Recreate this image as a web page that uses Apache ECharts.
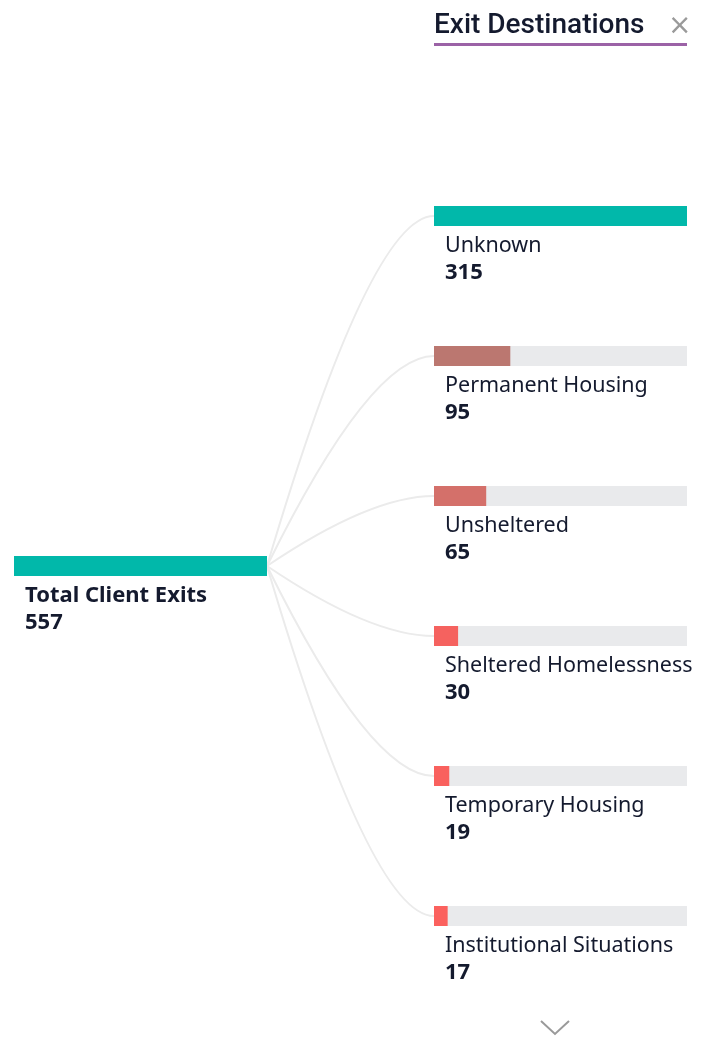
<!DOCTYPE html>
<html>
<head>
<meta charset="utf-8">
<script src="https://cdn.jsdelivr.net/npm/echarts@6/dist/echarts.min.js"></script>
<style>
  html, body { margin: 0; padding: 0; background: #fff; }
  #chart { width: 705px; height: 1045px; }
</style>
</head>
<body>
<div id="chart"></div>
<script>
// root node
const rootName = 'Total Client Exits';
const rootValue = 557;

// exit destination breakdown
const destinations = ['Unknown', 'Permanent Housing', 'Unsheltered', 'Sheltered Homelessness', 'Temporary Housing', 'Institutional Situations'];
const exitCounts = [315, 95, 65, 30, 19, 17];
const barColors = ['#01B8AA', '#BB7770', '#D4706A', '#F5625F', '#F9615E', '#FB615E'];

const textColor = '#141a2e';
const font = '"Noto Sans", "Open Sans", sans-serif';

const chart = echarts.init(document.getElementById('chart'));

const labelRich = {
  n: { fontFamily: font, fontSize: 21.5, color: textColor, lineHeight: 27 },
  nb: { fontFamily: font, fontSize: 22, fontWeight: 'bold', color: textColor, lineHeight: 27 },
  v: { fontFamily: font, fontSize: 22, fontWeight: 'bold', color: textColor, lineHeight: 27 }
};

const option = {
  animation: false,
  grid: [
    { left: 14, width: 253, top: 496, height: 140 },
    { left: 434, width: 253, top: 146, height: 840 }
  ],
  xAxis: [
    { gridIndex: 0, type: 'value', min: 0, max: rootValue, show: false },
    { gridIndex: 1, type: 'value', min: 0, max: Math.max(...exitCounts), show: false }
  ],
  yAxis: [
    { gridIndex: 0, type: 'category', data: [rootName], show: false },
    { gridIndex: 1, type: 'category', data: destinations, inverse: true, show: false }
  ],
  series: [
    {
      type: 'bar',
      xAxisIndex: 0,
      yAxisIndex: 0,
      barWidth: 20,
      z: 3,
      data: [{ value: rootValue, itemStyle: { color: '#01B8AA' } }],
      label: {
        show: true,
        position: [11, 26],
        align: 'left',
        verticalAlign: 'top',
        formatter: p => `{nb|${p.name}}\n{v|${p.value}}`,
        rich: labelRich
      }
    },
    {
      type: 'bar',
      xAxisIndex: 1,
      yAxisIndex: 1,
      barWidth: 20,
      z: 3,
      showBackground: true,
      backgroundStyle: { color: '#E9EAEC' },
      data: exitCounts.map((v, i) => ({ value: v, itemStyle: { color: barColors[i] } })),
      label: {
        show: true,
        position: [11, 26],
        align: 'left',
        verticalAlign: 'top',
        formatter: p => `{n|${p.name}}\n{v|${p.value}}`,
        rich: labelRich
      }
    }
  ],
  graphic: [
    {
      type: 'text', left: 434, top: 12,
      style: { text: 'Exit Destinations', font: '500 28px Roboto, sans-serif', fill: textColor }
    },
    {
      type: 'text', left: 668, top: 13,
      style: { text: '×', font: '28px "DejaVu Sans", sans-serif', fill: '#9a9a9a' }
    },
    {
      type: 'rect', shape: { x: 434, y: 43, width: 253, height: 3 },
      style: { fill: '#9B62A6' }
    },
    {
      type: 'polyline', shape: { points: [[541, 1021], [555, 1034], [569, 1021]] },
      style: { stroke: '#9a9a9a', lineWidth: 2, fill: null }
    }
  ]
};

chart.setOption(option);

// connectors from root bar end to each destination bar start
const start = chart.convertToPixel({ xAxisIndex: 0, yAxisIndex: 0 }, [rootValue, rootName]);
const links = destinations.map((d, i) => {
  const end = chart.convertToPixel({ xAxisIndex: 1, yAxisIndex: 1 }, [0, d]);
  const cx = start[0] + 0.62 * (end[0] - start[0]);
  return {
    type: 'bezierCurve',
    z: 1,
    shape: { x1: start[0], y1: start[1], x2: end[0], y2: end[1], cpx1: cx, cpy1: end[1] },
    style: { stroke: '#ebebeb', lineWidth: 2, fill: null }
  };
});
chart.setOption({ graphic: option.graphic.concat(links) });
</script>
</body>
</html>
